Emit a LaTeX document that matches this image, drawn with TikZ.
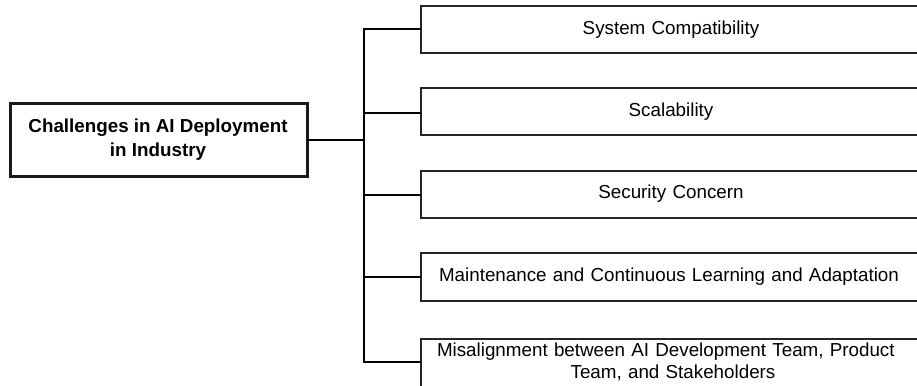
\documentclass[tikz,border=0pt]{standalone}
\usepackage{fontspec}
\setmainfont{Liberation Sans}
\begin{document}
\begin{tikzpicture}[x=1pt,y=-1pt,
  rootbox/.style={draw=black!90, line width=3pt, fill=white, inner sep=0pt},
  itembox/.style={draw=black!85, line width=2.9pt, fill=white, inner sep=0pt},
  link/.style={draw=black, line width=2pt},
  itemtext/.style={font=\fontsize{18.8}{22}\selectfont, align=center, text width=480pt}
]
\useasboundingbox (0,0) rectangle (917,385);
\clip (0,0) rectangle (917,385);

% root box
\draw[rootbox] (10,104) rectangle (307,176);
\node[font=\fontsize{18.8}{24}\selectfont\bfseries, align=center] (root) at (158,140)
  {Challenges in AI Deployment\\in Industry};
\coordinate (rootR) at (307,140);

% trunk
\coordinate (j) at (364,140);
\coordinate (t1) at (364,29);
\coordinate (t5) at (364,362);

% item boxes (right edges run off the page)
\draw[itembox] (421,6)   rectangle (935,53);
\draw[itembox] (421,88)  rectangle (935,135);
\draw[itembox] (421,171) rectangle (935,218);
\draw[itembox] (421,253) rectangle (935,301);
\draw[itembox] (421,339) rectangle (935,400);

\node[itemtext] (c1) at (671,30)  {System Compatibility};
\node[itemtext] (c2) at (671,112) {Scalability};
\node[itemtext] (c3) at (671,194) {Security Concern};
\node[itemtext] (c4) at (669,277) {Maintenance and Continuous Learning and Adaptation};
\node[itemtext] (c5) at (673,362)
  {\makebox[472pt][s]{Misalignment between AI Development Team, Product}\\Team, and Stakeholders};

\coordinate (e1) at (421,29);
\coordinate (e2) at (421,113);
\coordinate (e3) at (421,195);
\coordinate (e4) at (421,277);
\coordinate (e5) at (421,362);

% connectors
\draw[link, line width=2.8pt] (rootR) -- (j);
\draw[link] (e1) -- (t1) -- (t5) -- (e5);
\draw[link] (j |- e2) -- (e2);
\draw[link] (j |- e3) -- (e3);
\draw[link] (j |- e4) -- (e4);
\end{tikzpicture}
\end{document}
